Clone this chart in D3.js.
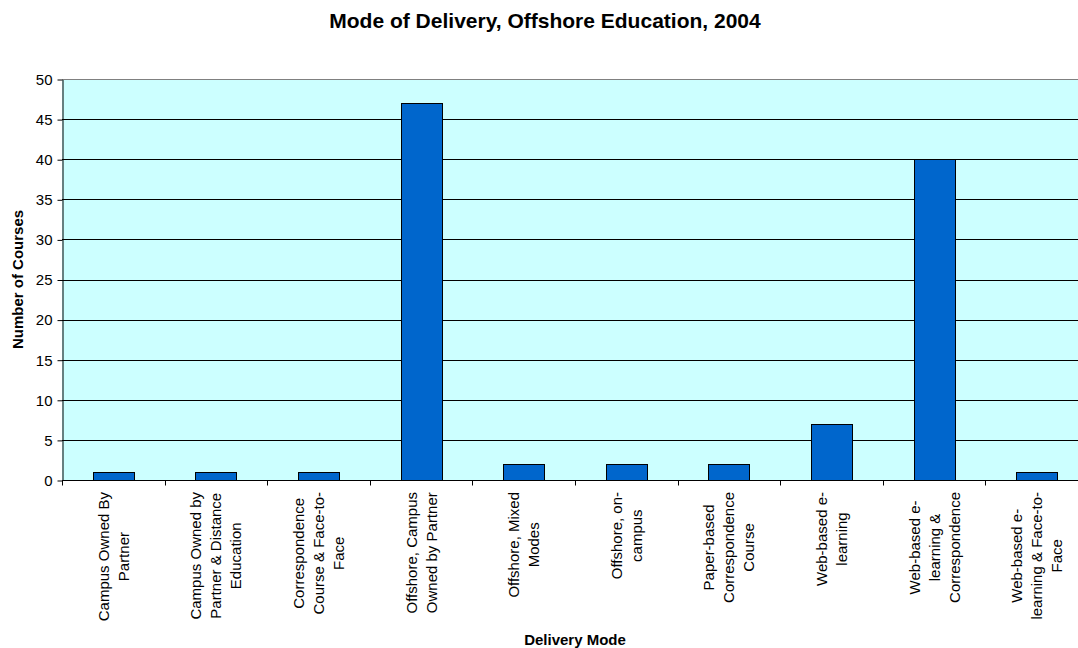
<!DOCTYPE html>
<html>
<head>
<meta charset="utf-8">
<script src="https://cdn.jsdelivr.net/npm/d3@7"></script>
<style>
  html, body { margin: 0; padding: 0; background: #fff; }
  svg { display: block; font-family: "Liberation Sans", Arial, sans-serif; }
</style>
</head>
<body>
<svg id="chart" width="1078" height="648"></svg>
<script>
// Delivery modes and course counts
const categories = [
  "Campus Owned By Partner",
  "Campus Owned by Partner & Distance Education",
  "Correspondence Course & Face-to-Face",
  "Offshore, Campus Owned by Partner",
  "Offshore, Mixed Modes",
  "Offshore, on-campus",
  "Paper-based Correspondence Course",
  "Web-based e-learning",
  "Web-based e-learning & Correspondence",
  "Web-based e-learning & Face-to-Face"
];
const courses = [1, 1, 1, 47, 2, 2, 2, 7, 40, 1];

// Wrapped category labels, one array of lines per category
const labelLines = [
  ["Campus Owned By", "Partner"],
  ["Campus Owned by", "Partner & Distance", "Education"],
  ["Correspondence", "Course & Face-to-", "Face"],
  ["Offshore,  Campus", "Owned by Partner"],
  ["Offshore, Mixed", "Modes"],
  ["Offshore, on-", "campus"],
  ["Paper-based", "Correspondence", "Course"],
  ["Web-based e-", "learning"],
  ["Web-based e-", "learning &", "Correspondence"],
  ["Web-based e-", "learning & Face-to-", "Face"]
];
const yTicks = [0, 5, 10, 15, 20, 25, 30, 35, 40, 45, 50];

const titleText = "Mode of Delivery, Offshore Education, 2004";
const xTitle = "Delivery Mode";
const yTitle = "Number of Courses";

const svg = d3.select("#chart");
const plot = { left: 62, right: 1088, top: 79, bottom: 480 };

const x = d3.scaleBand().domain(categories).range([plot.left, plot.right]).padding(0);
const y = d3.scaleLinear().domain([0, 50]).range([plot.bottom, plot.top]);

const clip = svg.append("defs").append("clipPath").attr("id", "view")
  .append("rect").attr("x", 0).attr("y", 0).attr("width", 1078).attr("height", 648);

const root = svg.append("g").attr("clip-path", "url(#view)");

// Plot background
root.append("rect")
  .attr("x", plot.left).attr("y", y(50))
  .attr("width", plot.right - plot.left).attr("height", y(0) - y(50))
  .attr("fill", "#CCFFFF");

// Horizontal gridlines
root.append("g").selectAll("line")
  .data(yTicks.filter(d => d > 0))
  .join("line")
  .attr("x1", plot.left).attr("x2", plot.right)
  .attr("y1", d => Math.round(y(d)) + 0.5).attr("y2", d => Math.round(y(d)) + 0.5)
  .attr("stroke", d => d === 50 ? "#808080" : "#000")
  .attr("stroke-width", 1);

// Bars
const bw = x.bandwidth() * 0.4;
root.append("g").selectAll("rect")
  .data(categories.map((c, i) => ({ c, v: courses[i] })))
  .join("rect")
  .attr("x", d => Math.round(x(d.c) + (x.bandwidth() - bw) / 2) + 0.5)
  .attr("y", d => Math.round(y(d.v)) + 0.5)
  .attr("width", Math.round(bw))
  .attr("height", d => Math.round(y(0)) - Math.round(y(d.v)))
  .attr("fill", "#0066CC")
  .attr("stroke", "#000")
  .attr("stroke-width", 1);

// Y axis
const yAxis = d3.axisLeft(y).tickValues(yTicks).tickSize(5).tickSizeOuter(0).tickPadding(5);
const yg = root.append("g").attr("transform", `translate(${plot.left + 0.5},0.5)`).call(yAxis);
yg.select(".domain").attr("stroke", "#000");
yg.selectAll(".tick line").attr("stroke", "#000");
yg.selectAll(".tick text")
  .attr("font-size", 15).attr("fill", "#000")
  .attr("font-family", '"Liberation Sans", Arial, sans-serif');

// X axis line and category boundary ticks
const xg = root.append("g");
xg.append("line")
  .attr("x1", plot.left).attr("x2", plot.right)
  .attr("y1", Math.round(y(0)) + 0.5).attr("y2", Math.round(y(0)) + 0.5)
  .attr("stroke", "#000");
const bounds = categories.map(c => x(c)).concat([x(categories[categories.length - 1]) + x.bandwidth()]);
xg.selectAll("line.tick")
  .data(bounds)
  .join("line")
  .attr("class", "tick")
  .attr("x1", d => Math.round(d) + 0.5).attr("x2", d => Math.round(d) + 0.5)
  .attr("y1", Math.round(y(0))).attr("y2", Math.round(y(0)) + 5.5)
  .attr("stroke", "#000");

// Rotated, wrapped category labels
const labelTop = 492;
const lineGap = 20;
categories.forEach((c, i) => {
  const lines = labelLines[i];
  const g = root.append("g")
    .attr("transform", `translate(${x(c) + x.bandwidth() / 2},${labelTop}) rotate(-90)`);
  const texts = g.selectAll("text")
    .data(lines)
    .join("text")
    .attr("text-anchor", "middle")
    .attr("font-size", 15)
    .attr("fill", "#000")
    .attr("y", (d, j) => (j - (lines.length - 1) / 2) * lineGap + 5.5)
    .text(d => d);
  let maxW = 0;
  texts.each(function () { maxW = Math.max(maxW, this.getComputedTextLength()); });
  texts.attr("x", -maxW / 2);
});

// Titles
svg.append("text")
  .attr("x", 545).attr("y", 28)
  .attr("text-anchor", "middle")
  .attr("font-size", 21).attr("font-weight", "bold").attr("fill", "#000")
  .text(titleText);

svg.append("text")
  .attr("x", (plot.left + plot.right) / 2).attr("y", 645)
  .attr("text-anchor", "middle")
  .attr("font-size", 15).attr("font-weight", "bold").attr("fill", "#000")
  .text(xTitle);

svg.append("text")
  .attr("transform", `translate(23,${(plot.top + plot.bottom) / 2}) rotate(-90)`)
  .attr("text-anchor", "middle")
  .attr("font-size", 15).attr("font-weight", "bold").attr("fill", "#000")
  .text(yTitle);
</script>
</body>
</html>
